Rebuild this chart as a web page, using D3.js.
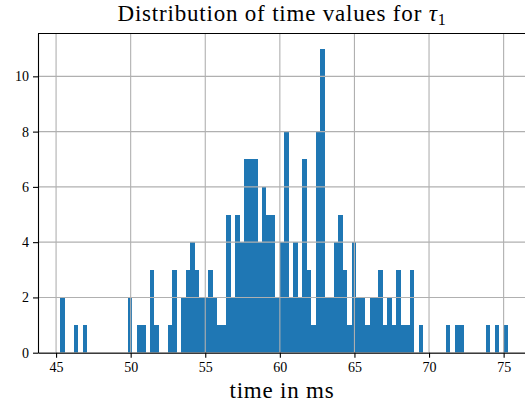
<!DOCTYPE html>
<html>
<head>
<meta charset="utf-8">
<script src="https://cdn.jsdelivr.net/npm/d3@7"></script>
<style>
  body { margin: 0; background: #fff; }
  svg { display: block; font-family: "Liberation Serif", "DejaVu Serif", serif; }
</style>
</head>
<body>
<div id="chart"></div>
<script>
// histogram of tau_1 times, 100 bins between binMin and binMax
const binMin = 45.29;
const binMax = 75.32;
const counts = [
  2, 0, 0, 1, 0, 1, 0, 0, 0, 0,
  0, 0, 0, 0, 0, 2, 0, 1, 1, 0,
  3, 1, 0, 0, 1, 3, 0, 2, 3, 4,
  3, 2, 2, 3, 2, 1, 1, 5, 2, 5,
  4, 7, 7, 7, 4, 6, 5, 5, 2, 4,
  8, 2, 4, 2, 7, 3, 1, 8, 11, 2,
  2, 4, 5, 3, 1, 4, 2, 2, 1, 2,
  2, 3, 1, 2, 1, 3, 1, 1, 3, 0,
  1, 0, 0, 0, 0, 0, 1, 0, 1, 1,
  0, 0, 0, 0, 0, 1, 0, 1, 0, 1
];
const xTicks = [45, 50, 55, 60, 65, 70, 75];
const yTicks = [0, 2, 4, 6, 8, 10];

const w = 525, h = 407;
const margin = { top: 33.5, left: 38, bottom: 54 };

const binWidth = (binMax - binMin) / counts.length;
const bins = counts.map((c, i) => ({ x0: binMin + i * binWidth, x1: binMin + (i + 1) * binWidth, n: c }));

const pad = 0.05 * (binMax - binMin);
const xScale = d3.scaleLinear()
  .domain([binMin - pad, binMax + pad])
  .range([margin.left, margin.left + 492.8]);

const yMax = d3.max(counts) * 1.05;
const yScale = d3.scaleLinear()
  .domain([0, yMax])
  .range([h - margin.bottom - 0.3, margin.top]);

const svg = d3.select("#chart").append("svg")
  .attr("width", w)
  .attr("height", h);

// bars
svg.append("g")
  .selectAll("rect")
  .data(bins.filter(d => d.n > 0))
  .enter()
  .append("rect")
  .attr("x", d => xScale(d.x0))
  .attr("width", d => xScale(d.x1) - xScale(d.x0))
  .attr("y", d => yScale(d.n))
  .attr("height", d => yScale(0) - yScale(d.n))
  .attr("fill", "#1f77b4")
  .attr("shape-rendering", "crispEdges");

// grid on top of bars
const x0 = xScale.range()[0], x1 = xScale.range()[1];
const yb = yScale.range()[0], yt = yScale.range()[1];
const grid = svg.append("g").attr("stroke", "#b0b0b0").attr("stroke-width", 1.1);
grid.selectAll("line.gx").data(xTicks).enter().append("line")
  .attr("x1", d => xScale(d)).attr("x2", d => xScale(d))
  .attr("y1", yb).attr("y2", yt);
grid.selectAll("line.gy").data(yTicks).enter().append("line")
  .attr("x1", x0).attr("x2", x1)
  .attr("y1", d => yScale(d)).attr("y2", d => yScale(d));

// axes
const xAxis = d3.axisBottom(xScale).tickValues(xTicks).tickSize(5).tickPadding(4).tickSizeOuter(0);
const yAxis = d3.axisLeft(yScale).tickValues(yTicks).tickSize(5).tickPadding(4).tickSizeOuter(0);

const gx = svg.append("g")
  .attr("transform", `translate(0, ${yb})`)
  .call(xAxis);
const gy = svg.append("g")
  .attr("transform", `translate(${x0}, 0)`)
  .call(yAxis);

[gx, gy].forEach(g => {
  g.selectAll("text").style("font-family", "Liberation Serif, serif").style("font-size", "14px").attr("fill", "#000");
  g.selectAll("line").attr("stroke", "#000").attr("stroke-width", 1.1);
  g.select(".domain").attr("stroke", "#000").attr("stroke-width", 1.1);
});

// top and right spines
svg.append("line").attr("x1", x0).attr("x2", x1).attr("y1", yt).attr("y2", yt)
  .attr("stroke", "#000").attr("stroke-width", 1.1);
svg.append("line").attr("x1", x1).attr("x2", x1).attr("y1", yt).attr("y2", yb)
  .attr("stroke", "#000").attr("stroke-width", 1.1);

// title
const title = svg.append("text")
  .attr("x", 282)
  .attr("y", 21)
  .attr("text-anchor", "middle")
  .style("font-size", "23px")
  .style("letter-spacing", "0.8px");
title.append("tspan").text("Distribution of time values for ");
title.append("tspan").text("τ").style("font-style", "italic");
title.append("tspan").text("1").attr("dy", 4).style("font-size", "16px");

// x label
svg.append("text")
  .attr("x", 282)
  .attr("y", 398)
  .attr("text-anchor", "middle")
  .style("font-size", "23px")
  .style("letter-spacing", "0.8px")
  .text("time in ms");
</script>
</body>
</html>
